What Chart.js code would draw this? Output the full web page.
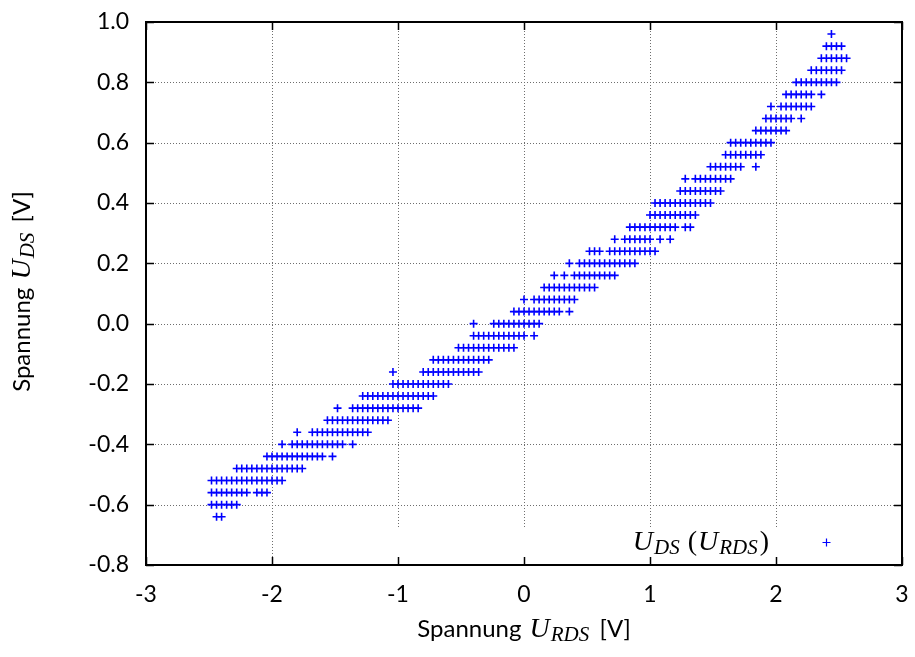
<!DOCTYPE html>
<html>
<head>
<meta charset="utf-8">
<script src="https://cdn.jsdelivr.net/npm/chart.js@4"></script>
<style>
  body { margin: 0; background: #fff; }
</style>
</head>
<body>
<canvas id="udsChart" width="915" height="657"></canvas>
<script>
// U_DS levels (rows) and the U_RDS readings measured at each level [V]
const udsLevels = [
    -0.64, -0.60, -0.56, -0.52, -0.48, -0.44, -0.40, -0.36, -0.32, -0.28, -0.24,
    -0.20, -0.16, -0.12, -0.08, -0.04, 0.00, 0.04, 0.08, 0.12, 0.16, 0.20,
    0.24, 0.28, 0.32, 0.36, 0.40, 0.44, 0.48, 0.52, 0.56, 0.60, 0.64,
    0.68, 0.72, 0.76, 0.80, 0.84, 0.88, 0.92, 0.96
];
const urdsAtLevel = [
    [-2.44, -2.40],
    [-2.48, -2.44, -2.40, -2.36, -2.32, -2.28],
    [-2.48, -2.44, -2.40, -2.36, -2.32, -2.28, -2.24, -2.20, -2.12, -2.08, -2.04],
    [-2.48, -2.44, -2.40, -2.36, -2.32, -2.28, -2.24, -2.20, -2.16, -2.12, -2.08, -2.04, -2.00, -1.96, -1.92],
    [-2.28, -2.24, -2.20, -2.16, -2.12, -2.08, -2.04, -2.00, -1.96, -1.92, -1.88, -1.84, -1.80, -1.76],
    [-2.04, -2.00, -1.96, -1.92, -1.88, -1.84, -1.80, -1.76, -1.72, -1.68, -1.64, -1.60, -1.52],
    [-1.92, -1.84, -1.80, -1.76, -1.72, -1.68, -1.64, -1.60, -1.56, -1.52, -1.48, -1.44, -1.36],
    [-1.80, -1.68, -1.64, -1.60, -1.56, -1.52, -1.48, -1.44, -1.40, -1.36, -1.32, -1.28, -1.24],
    [-1.56, -1.52, -1.48, -1.44, -1.40, -1.36, -1.32, -1.28, -1.24, -1.20, -1.16, -1.12, -1.08],
    [-1.48, -1.36, -1.32, -1.28, -1.24, -1.20, -1.16, -1.12, -1.08, -1.04, -1.00, -0.96, -0.92, -0.88, -0.84],
    [-1.28, -1.24, -1.20, -1.16, -1.12, -1.08, -1.04, -1.00, -0.96, -0.92, -0.88, -0.84, -0.80, -0.76, -0.72],
    [-1.04, -1.00, -0.96, -0.92, -0.88, -0.84, -0.80, -0.76, -0.72, -0.68, -0.64, -0.60],
    [-1.04, -0.80, -0.76, -0.72, -0.68, -0.64, -0.60, -0.56, -0.52, -0.48, -0.44, -0.40, -0.36],
    [-0.72, -0.68, -0.64, -0.60, -0.56, -0.52, -0.48, -0.44, -0.40, -0.36, -0.32, -0.28],
    [-0.52, -0.48, -0.44, -0.40, -0.36, -0.32, -0.28, -0.24, -0.20, -0.16, -0.12, -0.08],
    [-0.40, -0.36, -0.32, -0.28, -0.24, -0.20, -0.16, -0.12, -0.08, -0.04, 0.00, 0.08],
    [-0.40, -0.24, -0.20, -0.16, -0.12, -0.08, -0.04, 0.00, 0.04, 0.08, 0.12],
    [-0.08, -0.04, 0.00, 0.04, 0.08, 0.12, 0.16, 0.20, 0.24, 0.28, 0.36],
    [0.00, 0.08, 0.12, 0.16, 0.20, 0.24, 0.28, 0.32, 0.36, 0.40],
    [0.16, 0.20, 0.24, 0.28, 0.32, 0.36, 0.40, 0.44, 0.48, 0.52, 0.56],
    [0.24, 0.32, 0.40, 0.44, 0.48, 0.52, 0.56, 0.60, 0.64, 0.68, 0.72],
    [0.36, 0.44, 0.48, 0.52, 0.56, 0.60, 0.64, 0.68, 0.72, 0.76, 0.80, 0.84, 0.88],
    [0.52, 0.56, 0.60, 0.68, 0.72, 0.76, 0.80, 0.84, 0.88, 0.92, 0.96, 1.00, 1.04],
    [0.72, 0.80, 0.84, 0.88, 0.92, 0.96, 1.00, 1.08, 1.16],
    [0.84, 0.88, 0.92, 0.96, 1.00, 1.04, 1.08, 1.12, 1.16, 1.20, 1.28, 1.32],
    [1.00, 1.04, 1.08, 1.12, 1.16, 1.20, 1.24, 1.28, 1.32, 1.36],
    [1.04, 1.08, 1.12, 1.16, 1.20, 1.24, 1.28, 1.32, 1.36, 1.40, 1.44, 1.48],
    [1.24, 1.28, 1.32, 1.36, 1.40, 1.44, 1.48, 1.52, 1.56],
    [1.28, 1.36, 1.40, 1.44, 1.48, 1.52, 1.56, 1.60, 1.64],
    [1.48, 1.52, 1.56, 1.60, 1.64, 1.68, 1.72, 1.84],
    [1.60, 1.64, 1.68, 1.72, 1.76, 1.80, 1.84, 1.88],
    [1.64, 1.68, 1.72, 1.76, 1.80, 1.84, 1.88, 1.92, 1.96],
    [1.84, 1.88, 1.92, 1.96, 2.00, 2.04, 2.08],
    [1.92, 1.96, 2.00, 2.04, 2.08, 2.12, 2.20],
    [1.96, 2.04, 2.08, 2.12, 2.16, 2.20, 2.24, 2.28],
    [2.08, 2.12, 2.16, 2.20, 2.24, 2.28, 2.36],
    [2.16, 2.20, 2.24, 2.28, 2.32, 2.36, 2.40, 2.44, 2.48],
    [2.28, 2.32, 2.36, 2.40, 2.44, 2.48, 2.52],
    [2.36, 2.40, 2.44, 2.48, 2.52, 2.56],
    [2.40, 2.44, 2.48, 2.52],
    [2.44]
];

const xTicks = [-3, -2, -1, 0, 1, 2, 3];
const xTickLabels = ['-3', '-2', '-1', '0', '1', '2', '3'];
const yTicks = [-0.8, -0.6, -0.4, -0.2, 0.0, 0.2, 0.4, 0.6, 0.8, 1.0];
const yTickLabels = ['-0.8', '-0.6', '-0.4', '-0.2', '0.0', '0.2', '0.4', '0.6', '0.8', '1.0'];

const points = [];
udsLevels.forEach((uds, i) => {
    urdsAtLevel[i].forEach((urds) => points.push({ x: urds, y: uds }));
});

const SANS = '24px Lato';
const MATH = 'italic 28px "Liberation Serif"';
const MATH_SUB = 'italic 21px "Liberation Serif"';
const MATH_UP = '28px "Liberation Serif"';

// draws a list of text pieces with their own fonts on one baseline
function drawRich(ctx, parts, x, y, align) {
    let total = 0;
    parts.forEach((p) => { ctx.font = p.font; total += ctx.measureText(p.text).width + (p.gap || 0); });
    let cx = align === 'center' ? x - total / 2 : (align === 'right' ? x - total : x);
    ctx.textAlign = 'left';
    ctx.textBaseline = 'alphabetic';
    parts.forEach((p) => {
        ctx.font = p.font;
        ctx.fillText(p.text, cx, y + (p.dy || 0));
        cx += ctx.measureText(p.text).width + (p.gap || 0);
    });
}

const gnuplotFrame = {
    id: 'gnuplotFrame',
    beforeDatasetsDraw(chart) {
        const { ctx, chartArea: a, scales: { x, y } } = chart;
        ctx.save();
        ctx.strokeStyle = '#6e6e6e';
        ctx.lineWidth = 1;
        ctx.setLineDash([1, 2]);
        xTicks.slice(1, -1).forEach((v) => {
            const px = Math.round(x.getPixelForValue(v)) + 0.5;
            ctx.beginPath(); ctx.moveTo(px, a.top); ctx.lineTo(px, a.bottom); ctx.stroke();
        });
        yTicks.slice(1, -1).forEach((v) => {
            const py = Math.round(y.getPixelForValue(v)) + 0.5;
            ctx.beginPath(); ctx.moveTo(a.left, py); ctx.lineTo(a.right, py); ctx.stroke();
        });
        // opaque key box
        ctx.fillStyle = '#fff';
        ctx.fillRect(300, 527, a.right - 300, a.bottom - 527);
        ctx.restore();
    },
    afterDatasetsDraw(chart) {
        const { ctx, chartArea: a, scales: { x, y } } = chart;
        ctx.save();
        ctx.strokeStyle = '#000';
        ctx.setLineDash([]);
        ctx.lineWidth = 1.5;
        const tl = 8;
        xTicks.forEach((v) => {
            const px = Math.round(x.getPixelForValue(v)) + 0.5;
            ctx.beginPath();
            ctx.moveTo(px, a.bottom); ctx.lineTo(px, a.bottom - tl);
            ctx.moveTo(px, a.top); ctx.lineTo(px, a.top + tl);
            ctx.stroke();
        });
        yTicks.forEach((v) => {
            const py = Math.round(y.getPixelForValue(v)) + 0.5;
            ctx.beginPath();
            ctx.moveTo(a.left, py); ctx.lineTo(a.left + tl, py);
            ctx.moveTo(a.right, py); ctx.lineTo(a.right - tl, py);
            ctx.stroke();
        });
        ctx.lineWidth = 2;
        ctx.strokeRect(a.left, a.top, a.right - a.left, a.bottom - a.top);

        ctx.fillStyle = '#000';
        // x axis title
        drawRich(ctx, [
            { text: 'Spannung ', font: SANS, gap: 2 },
            { text: 'U', font: MATH, gap: 1 },
            { text: 'RDS', font: MATH_SUB, dy: 4, gap: 4 },
            { text: ' [V]', font: SANS }
        ], (a.left + a.right) / 2, 637, 'center');
        // y axis title
        ctx.save();
        ctx.translate(30, (a.top + a.bottom) / 2 - 2);
        ctx.rotate(-Math.PI / 2);
        drawRich(ctx, [
            { text: 'Spannung ', font: SANS, gap: 2 },
            { text: 'U', font: MATH, gap: 1 },
            { text: 'DS', font: MATH_SUB, dy: 4, gap: 4 },
            { text: ' [V]', font: SANS }
        ], 0, 0, 'center');
        ctx.restore();
        // key
        drawRich(ctx, [
            { text: 'U', font: MATH, gap: 1 },
            { text: 'DS', font: MATH_SUB, dy: 4, gap: 8 },
            { text: '(', font: MATH_UP, gap: 1 },
            { text: 'U', font: MATH, gap: 1 },
            { text: 'RDS', font: MATH_SUB, dy: 4, gap: 2 },
            { text: ')', font: MATH_UP }
        ], 769, 550, 'right');
        ctx.strokeStyle = '#0000ff';
        ctx.lineWidth = 1.2;
        ctx.beginPath();
        ctx.moveTo(822.5, 542.5); ctx.lineTo(830.5, 542.5);
        ctx.moveTo(826.5, 538.5); ctx.lineTo(826.5, 546.5);
        ctx.stroke();
        ctx.restore();
    }
};

Chart.defaults.font.family = 'Lato';
Chart.defaults.font.size = 23;
Chart.defaults.color = '#000';

new Chart(document.getElementById('udsChart').getContext('2d'), {
    type: 'scatter',
    data: {
        datasets: [{
            label: 'U_DS (U_RDS)',
            data: points,
            pointStyle: 'cross',
            pointRadius: 4,
            pointBorderWidth: 1.6,
            borderColor: '#0000ff',
            backgroundColor: '#0000ff'
        }]
    },
    options: {
        responsive: false,
        animation: false,
        events: [],
        layout: { autoPadding: false, padding: { top: 22, right: 13, left: 0, bottom: 0 } },
        plugins: {
            legend: { display: false },
            tooltip: { enabled: false }
        },
        scales: {
            x: {
                min: -3,
                max: 3,
                afterFit: (s) => {
                    s.height = 92;
                    s.paddingLeft = 0; s.paddingRight = 0;
                },
                afterBuildTicks: (s) => { s.ticks = xTicks.map((v) => ({ value: v })); },
                grid: { display: false, drawTicks: false },
                border: { display: false },
                ticks: {
                    padding: 16,
                    maxRotation: 0,
                    autoSkip: false,
                    callback: (val, i) => xTickLabels[i]
                }
            },
            y: {
                min: -0.8,
                max: 1.0,
                afterFit: (s) => {
                    s.width = 146;
                    s.paddingTop = 0; s.paddingBottom = 0;
                },
                afterBuildTicks: (s) => { s.ticks = yTicks.map((v) => ({ value: v })); },
                grid: { display: false, drawTicks: false },
                border: { display: false },
                ticks: {
                    padding: 17,
                    autoSkip: false,
                    callback: (val, i) => yTickLabels[i]
                }
            }
        }
    },
    plugins: [gnuplotFrame]
});
</script>
</body>
</html>
